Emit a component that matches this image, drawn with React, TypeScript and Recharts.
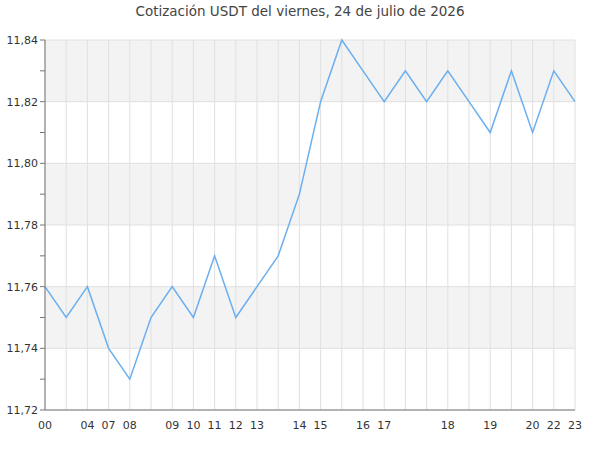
import { LineChart, Line, XAxis, YAxis, CartesianGrid } from 'recharts';

const title = 'Cotización USDT del viernes, 24 de julio de 2026';

// hour labels under each point ('' where the reference shows no label)
const hourLabels = [
  '00', '', '04', '07', '08', '', '09', '10', '11', '12', '13', '', '14',
  '15', '', '16', '17', '', '', '18', '', '19', '', '20', '22', '23',
];

const prices = [
  11.76, 11.75, 11.76, 11.74, 11.73, 11.75, 11.76, 11.75, 11.77, 11.75, 11.76, 11.77, 11.79,
  11.82, 11.84, 11.83, 11.82, 11.83, 11.82, 11.83, 11.82, 11.81, 11.83, 11.81, 11.83, 11.82,
];

const yTicks = [11.72, 11.73, 11.74, 11.75, 11.76, 11.77, 11.78, 11.79, 11.8, 11.81, 11.82, 11.83, 11.84];
const gridValues = [11.72, 11.74, 11.76, 11.78, 11.8, 11.82, 11.84];

const data = prices.map((p, i) => ({ i, price: p }));

function formatY(v: number) {
  const hundredths = Math.round(v * 100);
  if (hundredths % 2 !== 0) return '';
  return v.toFixed(2).replace('.', ',');
}

export default function App() {
  return (
    <div
      style={{
        position: 'absolute',
        left: 0,
        top: 0,
        width: 600,
        height: 450,
        background: '#fff',
        fontFamily: '"DejaVu Sans", sans-serif',
      }}
    >
      <div
        style={{
          position: 'absolute',
          top: 3,
          width: 600,
          textAlign: 'center',
          fontSize: 13.5,
          color: '#444',
        }}
      >
        {title}
      </div>
      <LineChart width={600} height={450} data={data} margin={{ top: 40, right: 25, bottom: 10, left: 0 }}>
        <CartesianGrid
          stroke="#e0e0e0"
          horizontalValues={gridValues}
          horizontalFill={['#f3f3f3', '#ffffff']}
          fillOpacity={1}
        />
        <XAxis
          dataKey="i"
          type="category"
          interval={0}
          height={30}
          tickFormatter={(v: number) => hourLabels[v]}
          tick={{ fontSize: 11, fill: '#333' }}
          tickLine={false}
          axisLine={{ stroke: '#777' }}
          tickMargin={5}
        />
        <YAxis
          domain={[11.72, 11.84]}
          ticks={yTicks}
          interval={0}
          tickFormatter={formatY}
          tick={{ fontSize: 11, fill: '#333' }}
          tickLine={{ stroke: '#777' }}
          tickSize={5}
          axisLine={{ stroke: '#777' }}
          width={45}
        />
        <Line
          type="linear"
          dataKey="price"
          stroke="#6aaff0"
          strokeWidth={1.5}
          dot={false}
          isAnimationActive={false}
        />
      </LineChart>
    </div>
  );
}
